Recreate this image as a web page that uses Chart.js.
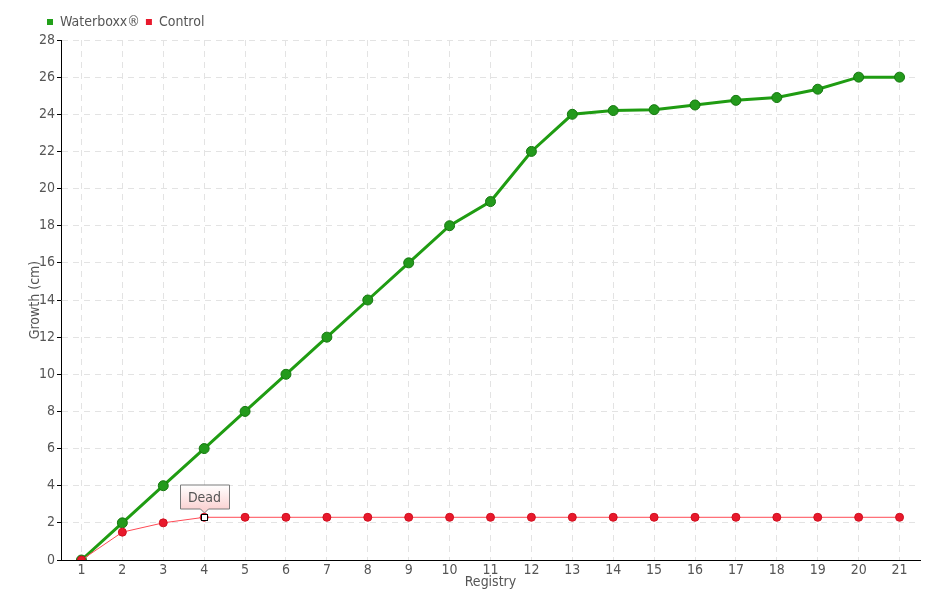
<!DOCTYPE html>
<html><head><meta charset="utf-8">
<script src="https://cdn.jsdelivr.net/npm/chart.js@4.4.0/dist/chart.umd.min.js"></script>
<style>html,body{margin:0;padding:0;background:#fff}#wrap{width:940px;height:600px}</style>
</head><body><div id="wrap"><canvas id="c"></canvas></div>
<script>
const categories = ['1','2','3','4','5','6','7','8','9','10','11','12','13','14','15','16','17','18','19','20','21'];
const waterboxx = [0,2,4,6,8,10,12,14,16,18,19.3,22,24,24.2,24.25,24.5,24.75,24.9,25.35,26,26];
const control = [0,1.5,2.0,2.3,2.3,2.3,2.3,2.3,2.3,2.3,2.3,2.3,2.3,2.3,2.3,2.3,2.3,2.3,2.3,2.3,2.3];
const annotationIndex = 3;
const annotationText = 'Dead';

const FONT = "'DejaVu Sans Condensed','DejaVu Sans',sans-serif";
Chart.defaults.font.family = FONT;
Chart.defaults.color = '#555';

const layoutPlugin = {
  id: 'layoutTweak',
  beforeInit(chart) {
    const lg = chart.legend;
    if (lg) {
      const fit = lg.fit;
      lg.fit = function () { fit.call(this); this.height = 40; };
    }
  },
  afterLayout(chart) {
    const lg = chart.legend;
    if (lg) { lg.left += 14; lg.right += 14; lg.top += 9; }
  }
};

const deadPlugin = {
  id: 'dead',
  afterDatasetsDraw(chart) {
    const meta = chart.getDatasetMeta(1);
    const pt = meta.data[annotationIndex];
    if (!pt) return;
    const ctx = chart.ctx;
    const x = Math.round(pt.x) + 0.5, y = Math.round(pt.y) + 0.5;
    ctx.save();
    ctx.fillStyle = '#fff';
    ctx.strokeStyle = '#000';
    ctx.lineWidth = 1;
    ctx.fillRect(x - 3, y - 3, 6, 6);
    ctx.strokeRect(x - 3, y - 3, 6, 6);
    const w = 49, h = 24, bx = Math.round(x - w / 2) + 0.5, by = Math.round(y - 9 - h);
    const g = ctx.createLinearGradient(0, by, 0, by + h);
    g.addColorStop(0, '#ffffff');
    g.addColorStop(1, '#fbd3d3');
    ctx.beginPath();
    ctx.moveTo(bx, by);
    ctx.lineTo(bx + w, by);
    ctx.lineTo(bx + w, by + h);
    ctx.lineTo(x + 4, by + h);
    ctx.lineTo(x, by + h + 4);
    ctx.lineTo(x - 4, by + h);
    ctx.lineTo(bx, by + h);
    ctx.closePath();
    ctx.fillStyle = g;
    ctx.fill();
    ctx.strokeStyle = '#7a7a7a';
    ctx.stroke();
    ctx.fillStyle = '#555';
    ctx.font = '14px ' + FONT;
    ctx.textAlign = 'center';
    ctx.textBaseline = 'middle';
    ctx.fillText(annotationText, x, by + h / 2 + 1);
    ctx.restore();
  }
};

new Chart(document.getElementById('c'), {
  type: 'line',
  data: {
    labels: categories,
    datasets: [
      {
        label: 'Waterboxx®',
        data: waterboxx,
        borderColor: '#1f9c12',
        backgroundColor: '#22a01a',
        pointBackgroundColor: '#239a1c',
        pointBorderColor: '#15780f',
        pointBorderWidth: 1,
        borderWidth: 3,
        pointRadius: 5,
        tension: 0,
        order: 1
      },
      {
        label: 'Control',
        data: control,
        borderColor: '#ff4a55',
        backgroundColor: '#e8192c',
        pointBackgroundColor: '#e8192c',
        pointBorderColor: '#d01020',
        pointBorderWidth: 1,
        borderWidth: 1,
        pointRadius: 4,
        tension: 0,
        order: 0
      }
    ]
  },
  options: {
    responsive: true,
    maintainAspectRatio: false,
    animation: false,
    layout: { padding: { left: 27, right: 20, top: 0, bottom: 9 } },
    plugins: {
      legend: {
        align: 'start',
        labels: {
          boxWidth: 6, boxHeight: 6, padding: 6,
          font: { size: 14 }, color: '#555',
          generateLabels(chart) {
            return chart.data.datasets.map((d, i) => ({
              text: d.label, fillStyle: d.backgroundColor, strokeStyle: d.backgroundColor,
              lineWidth: 0, hidden: false, datasetIndex: i, fontColor: '#555'
            }));
          }
        }
      },
      tooltip: { enabled: false }
    },
    scales: {
      x: {
        offset: true,
        afterFit(s) { s.height = 31; },
        grid: { color: '#e3e3e3', drawTicks: false, offset: false },
        border: { color: '#000', width: 1, dash: [6, 5] },
        ticks: { font: { size: 14 }, color: '#555', padding: 2 },
        title: { display: true, text: 'Registry', font: { size: 14 }, color: '#555', padding: { top: 0, bottom: 0 } }
      },
      y: {
        min: 0, max: 28,
        afterFit(s) { s.width = 34; },
        ticks: { stepSize: 2, font: { size: 14 }, color: '#555', padding: 2 },
        grid: { color: '#e3e3e3', tickColor: '#000', tickLength: 4, tickBorderDash: [] },
        border: { color: '#000', width: 1, dash: [6, 5] },
        title: { display: true, text: 'Growth (cm)', font: { size: 14 }, color: '#555', padding: { top: 0, bottom: 0 } }
      }
    }
  },
  plugins: [layoutPlugin, deadPlugin]
});
</script>
</body></html>
